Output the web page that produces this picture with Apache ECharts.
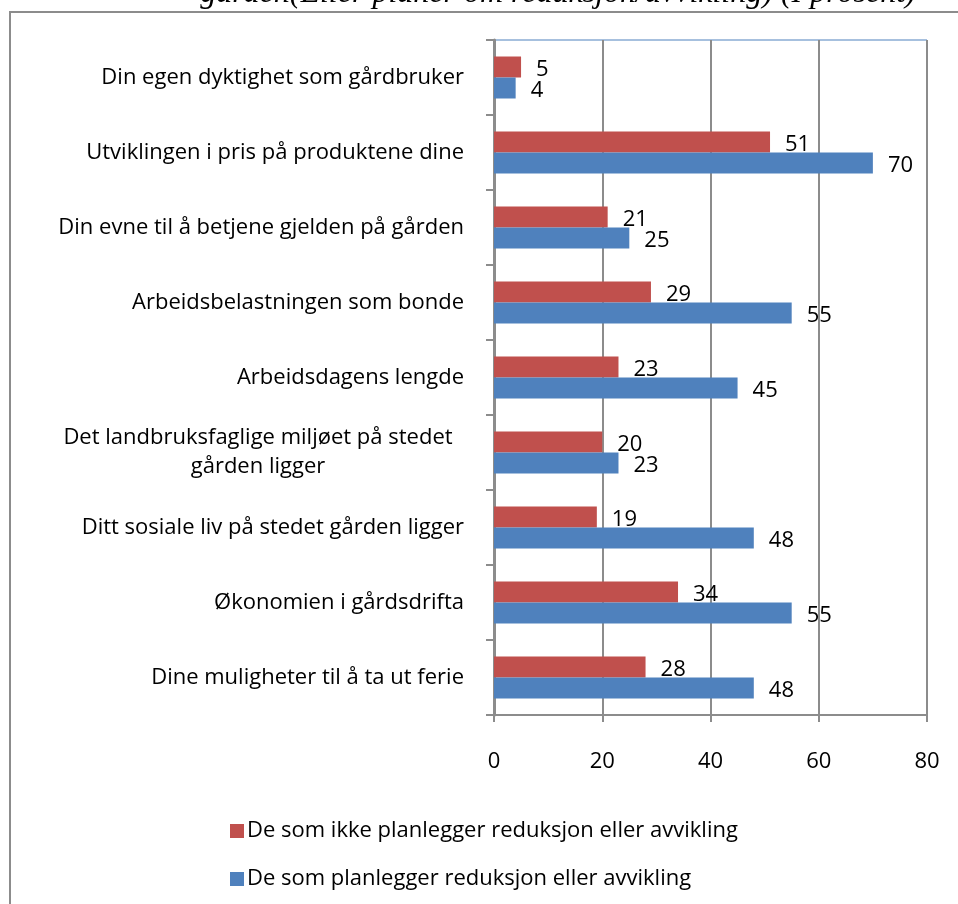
<!DOCTYPE html>
<html>
<head>
    <meta charset="utf-8">
    <style>
        html, body {
            height: 100%;
            margin: 0;
            padding: 0;
            background: #ffffff;
        }

        .container {
            width: 958px;
            height: 904px;
        }
    </style>
</head>
<body>
<div id="main" class="container"></div>

<script src="https://cdn.jsdelivr.net/npm/echarts@6/dist/echarts.min.js"></script>
<script type="text/javascript">
// categories listed from top to bottom
var categories = [
    'Din egen dyktighet som gårdbruker',
    'Utviklingen i pris på produktene dine',
    'Din evne til å betjene gjelden på gården',
    'Arbeidsbelastningen som bonde',
    'Arbeidsdagens lengde',
    'Det landbruksfaglige miljøet på stedet\ngården ligger',
    'Ditt sosiale liv på stedet gården ligger',
    'Økonomien i gårdsdrifta',
    'Dine muligheter til å ta ut ferie'
];
var ikkePlanlegger = [5, 51, 21, 29, 23, 20, 19, 34, 28];
var planlegger = [4, 70, 25, 55, 45, 23, 48, 55, 48];
var xTicks = [0, 20, 40, 60, 80];

var nameRed = 'De som ikke planlegger reduksjon eller avvikling';
var nameBlue = 'De som planlegger reduksjon eller avvikling';
var titleText = 'gården(Eller planer om reduksjon/avvikling) (I prosent)';

var font = '"Open Sans", Lato, sans-serif';
var fontSize = 22;
var textColor = '#000000';
var gridColor = '#8c8c8c';

var myChart = echarts.init(document.getElementById('main'));

var option = {
    animation: false,
    graphic: [
        {
            type: 'rect',
            shape: {x: 10, y: 12, width: 960, height: 900},
            style: {fill: 'none', stroke: '#8c8c8c', lineWidth: 2},
            silent: true
        },
        {
            // title is cut off at the top of the picture
            type: 'text',
            x: 558,
            y: -6,
            style: {
                text: titleText,
                font: 'italic 32px "Liberation Serif", serif',
                fill: textColor,
                align: 'center',
                verticalAlign: 'middle'
            },
            silent: true
        }
    ],
    legend: {
        orient: 'vertical',
        left: 225,
        top: 815,
        itemWidth: 14,
        itemHeight: 14,
        itemGap: 26,
        icon: 'rect',
        selectedMode: false,
        data: [nameRed, nameBlue],
        textStyle: {
            fontFamily: font,
            fontSize: fontSize,
            color: textColor,
            padding: [0, 0, 0, -2]
        }
    },
    grid: {
        left: 494,
        top: 40,
        right: 31,
        bottom: 189,
        show: true,
        borderColor: '#4f81bd',
        borderWidth: 1
    },
    xAxis: {
        type: 'value',
        min: 0,
        max: 80,
        interval: 20,
        axisLine: {show: true, lineStyle: {color: gridColor, width: 2}},
        axisTick: {show: true, length: 7, lineStyle: {color: gridColor, width: 2}},
        splitLine: {show: true, lineStyle: {color: gridColor, width: 2}},
        axisLabel: {
            margin: 36,
            fontFamily: font,
            fontSize: fontSize,
            color: textColor,
            formatter: function (v) {
                return xTicks.indexOf(v) >= 0 ? String(v) : '';
            }
        }
    },
    yAxis: {
        type: 'category',
        inverse: true,
        data: categories,
        axisLine: {show: true, lineStyle: {color: gridColor, width: 3}},
        axisTick: {show: true, length: 8, lineStyle: {color: gridColor, width: 2}},
        axisLabel: {
            margin: 30,
            fontFamily: font,
            fontSize: fontSize,
            lineHeight: 29,
            color: textColor,
            formatter: function (v) {
                if (v.indexOf('\n') >= 0) {
                    return '{c|' + v.replace('\n', '}\n{c|') + '}';
                }
                return v;
            },
            rich: {
                c: {
                    width: 412,
                    align: 'center',
                    fontFamily: font,
                    fontSize: fontSize,
                    lineHeight: 29,
                    color: textColor
                }
            }
        }
    },
    series: [
        {
            name: nameRed,
            type: 'bar',
            data: ikkePlanlegger,
            itemStyle: {color: '#c0504d'},
            barGap: '0%',
            barCategoryGap: '44%',
            label: {
                show: true,
                position: 'right',
                distance: 15,
                offset: [0, 3],
                fontFamily: font,
                fontSize: fontSize,
                color: textColor
            }
        },
        {
            name: nameBlue,
            type: 'bar',
            data: planlegger,
            itemStyle: {color: '#4f81bd'},
            barGap: '0%',
            barCategoryGap: '44%',
            label: {
                show: true,
                position: 'right',
                distance: 15,
                offset: [0, 3],
                fontFamily: font,
                fontSize: fontSize,
                color: textColor
            }
        }
    ]
};

myChart.setOption(option);
</script>
</body>
</html>
